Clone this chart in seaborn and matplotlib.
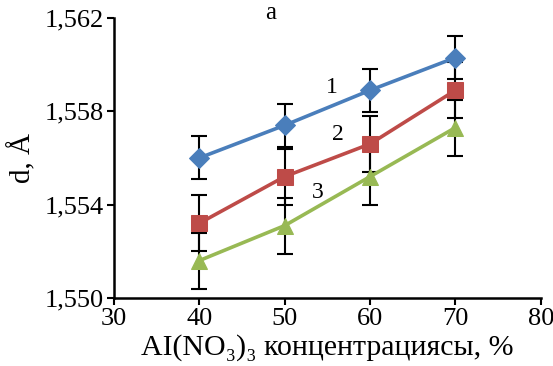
import pandas as pd
import matplotlib.pyplot as plt
import seaborn as sns
from matplotlib.ticker import FuncFormatter, FixedLocator, MultipleLocator

# data
conc = [40, 50, 60, 70]
d1 = [1.5560, 1.5574, 1.5589, 1.5603]
d2 = [1.5532, 1.5552, 1.5566, 1.5589]
d3 = [1.5516, 1.5531, 1.5552, 1.5573]
err1 = [0.00092, 0.00092, 0.00092, 0.00092]
err2 = [0.0012, 0.0012, 0.0012, 0.0012]
err3 = [0.0012, 0.0012, 0.0012, 0.0012]
y_ticks = [1.550, 1.554, 1.558, 1.562]

series = ["1", "2", "3"]
colors = ["#4A7EBB", "#BE4B48", "#98B954"]
markers = ["D", "s", "^"]
msizes = [10, 12, 12]

df = pd.DataFrame({
    "conc": conc * 3,
    "d": d1 + d2 + d3,
    "err": err1 + err2 + err3,
    "series": [s for s in series for _ in conc],
})

sns.set_style("white")
plt.rcParams["font.family"] = ["Liberation Serif", "DejaVu Serif"]
plt.rcParams["text.color"] = "black"
plt.rcParams["axes.labelcolor"] = "black"
plt.rcParams["xtick.color"] = "black"
plt.rcParams["ytick.color"] = "black"

fig = plt.figure(figsize=(5.53, 3.66), dpi=100)
ax = fig.add_axes([0.206, 0.186, 0.772, 0.765])

for s, c, m, ms in zip(series, colors, markers, msizes):
    sub = df[df["series"] == s]
    ax.errorbar(sub["conc"], sub["d"], yerr=sub["err"], fmt="none",
                ecolor="black", elinewidth=1.5, capsize=5.5, capthick=1.5, zorder=2)
    sns.lineplot(data=sub, x="conc", y="d", ax=ax, color=c, linewidth=2.6,
                 marker=m, markersize=ms, markeredgecolor=c, zorder=3,
                 legend=False)

ax.set_xlim(30, 80)
ax.set_ylim(1.550, 1.562)
ax.xaxis.set_major_locator(MultipleLocator(10))
ax.yaxis.set_major_locator(FixedLocator(y_ticks))
ax.yaxis.set_major_formatter(FuncFormatter(lambda v, p: f"{v:.3f}".replace(".", ",")))

for side in ["top", "right"]:
    ax.spines[side].set_visible(False)
for side in ["left", "bottom"]:
    ax.spines[side].set_color("black")
    ax.spines[side].set_linewidth(1.8)
ax.tick_params(axis="both", which="major", direction="out", length=5, width=1.5,
               color="black", labelcolor="black", labelsize=19, pad=2,
               left=True, bottom=True)

ax.set_xlabel("AI(NO\u2083)\u2083 концентрациясы, %", fontsize=21.5, labelpad=3)
ax.set_ylabel("d, Å", fontsize=21, labelpad=6)

# curve numbers and panel letter
ax.text(48.3, 1.5622, "a", fontsize=18, ha="center", va="center", clip_on=False)
ax.text(55.5, 1.5590, "1", fontsize=17, ha="center", va="center")
ax.text(56.2, 1.5570, "2", fontsize=17, ha="center", va="center")
ax.text(53.9, 1.5545, "3", fontsize=17, ha="center", va="center")

fig.savefig("out.png", dpi=100)
